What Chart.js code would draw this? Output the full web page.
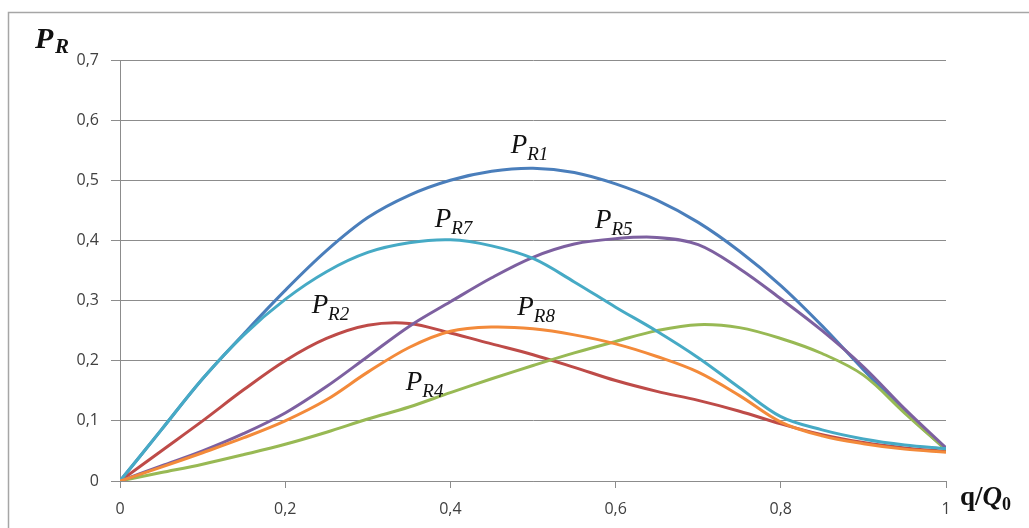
<!DOCTYPE html>
<html>
<head>
<meta charset="utf-8">
<script src="https://cdn.jsdelivr.net/npm/chart.js@4/dist/chart.umd.min.js"></script>
<style>
  body { margin: 0; background: #fff; }
  #wrap { width: 1029px; height: 528px; }
</style>
</head>
<body>
<div id="wrap"><canvas id="chart__1" width="1029" height="528"></canvas></div>
<script>
"use strict";

// ** Data
const qValues = [0, 0.05, 0.1, 0.15, 0.2, 0.25, 0.3, 0.35, 0.4, 0.45, 0.5,
  0.55, 0.6, 0.65, 0.7, 0.75, 0.8, 0.85, 0.9, 0.95, 1];

const pR1 = [0, 0.085, 0.17, 0.245, 0.317, 0.383, 0.438, 0.475, 0.5, 0.515, 0.52,
  0.513, 0.494, 0.467, 0.43, 0.382, 0.325, 0.258, 0.185, 0.115, 0.052];
const pR2 = [0, 0.05, 0.1, 0.152, 0.2, 0.237, 0.259, 0.262, 0.246, 0.228, 0.21,
  0.189, 0.167, 0.149, 0.134, 0.116, 0.095, 0.077, 0.064, 0.055, 0.049];
const pR4 = [0, 0.014, 0.028, 0.044, 0.061, 0.081, 0.103, 0.123, 0.147, 0.17, 0.192,
  0.213, 0.232, 0.25, 0.26, 0.255, 0.237, 0.212, 0.176, 0.113, 0.052];
const pR5 = [0, 0.025, 0.05, 0.079, 0.113, 0.157, 0.207, 0.257, 0.298, 0.338, 0.372,
  0.394, 0.403, 0.405, 0.393, 0.353, 0.303, 0.25, 0.19, 0.12, 0.055];
const pR7 = [0, 0.085, 0.17, 0.243, 0.302, 0.348, 0.38, 0.396, 0.401, 0.391, 0.37,
  0.331, 0.289, 0.249, 0.205, 0.155, 0.107, 0.085, 0.07, 0.06, 0.054];
const pR8 = [0, 0.023, 0.047, 0.072, 0.1, 0.135, 0.181, 0.222, 0.249, 0.256, 0.253,
  0.243, 0.228, 0.207, 0.181, 0.142, 0.098, 0.075, 0.062, 0.053, 0.048];

const seriesNames = ["R1", "R2", "R4", "R5", "R7", "R8"];
const seriesValues = [pR1, pR2, pR4, pR5, pR7, pR8];
const seriesColors = ["#4a7ebb", "#be4b48", "#98b954", "#7d60a0", "#46aac5", "#f38a3a"];

const xTicks = [0, 0.2, 0.4, 0.6, 0.8, 1];
const yTicks = [0, 0.1, 0.2, 0.3, 0.4, 0.5, 0.6, 0.7];

// curve labels: [subscript, q, P] anchor of the "P" (left, baseline)
const curveLabels = [
  ["R1", 0.473, 0.545],
  ["R7", 0.381, 0.422],
  ["R5", 0.575, 0.421],
  ["R2", 0.232, 0.279],
  ["R8", 0.481, 0.276],
  ["R4", 0.346, 0.151],
];

// ** Helpers
const fmt = (v) => String(Math.round(v * 10) / 10).replace(".", ",");
const gridGray = "#8c8c8c";

function buildDatasets() {
  const sets = seriesNames.map((name, i) => ({
    label: "P" + name,
    data: qValues.map((q, j) => ({ x: q, y: seriesValues[i][j] })),
    borderColor: seriesColors[i],
    backgroundColor: seriesColors[i],
    borderWidth: 3,
    pointRadius: 0,
    tension: 0.35,
    fill: false,
  }));
  // later series on top, like the spreadsheet
  return sets.reverse();
}

const framePlugin = {
  id: "frame",
  beforeDraw: (chart) => {
    const { ctx, width, height } = chart;
    ctx.save();
    ctx.fillStyle = "#ffffff";
    ctx.fillRect(0, 0, width, height);
    ctx.strokeStyle = "#a6a6a6";
    ctx.lineWidth = 1.5;
    ctx.strokeRect(8.5, 12.5, width + 20, height + 20);
    ctx.restore();
  },
};

const labelPlugin = {
  id: "curveLabels",
  afterDatasetsDraw: (chart) => {
    const { ctx } = chart;
    const xs = chart.scales.x;
    const ys = chart.scales.y;
    ctx.save();
    ctx.fillStyle = "#111";
    ctx.textBaseline = "alphabetic";
    ctx.textAlign = "left";
    curveLabels.forEach(([sub, q, p]) => {
      const px = xs.getPixelForValue(q);
      const py = ys.getPixelForValue(p);
      ctx.font = "italic 27px 'Liberation Serif'";
      ctx.fillText("P", px, py);
      const w = ctx.measureText("P").width;
      ctx.font = "italic 19px 'Liberation Serif'";
      ctx.fillText(sub, px + w, py + 7);
    });

    // axis titles
    ctx.font = "bold italic 30px 'Liberation Serif'";
    ctx.fillText("P", 35, 48);
    ctx.font = "bold italic 21px 'Liberation Serif'";
    ctx.fillText("R", 55, 53);

    ctx.font = "bold 27px 'Liberation Serif'";
    ctx.fillText("q/", 960, 505);
    let off = ctx.measureText("q/").width;
    ctx.font = "bold italic 27px 'Liberation Serif'";
    ctx.fillText("Q", 960 + off, 505);
    off += ctx.measureText("Q").width;
    ctx.font = "bold 18px 'Liberation Serif'";
    ctx.fillText("0", 960 + off, 510);
    ctx.restore();
  },
};

const config = {
  type: "line",
  data: { datasets: buildDatasets() },
  options: {
    responsive: false,
    animation: false,
    events: [],
    layout: { padding: { top: 60, right: 83, left: 0, bottom: 0 } },
    plugins: { legend: { display: false }, tooltip: { enabled: false } },
    scales: {
      x: {
        type: "linear",
        min: 0,
        max: 1,
        afterBuildTicks: (scale) => {
          scale.ticks = xTicks.map((v) => ({ value: v }));
        },
        afterFit: (scale) => {
          scale.height = 47;
        },
        ticks: {
          callback: (v) => fmt(v),
          font: { family: "'Open Sans'", size: 16 },
          color: "#404040",
          padding: 12,
          maxRotation: 0,
        },
        grid: {
          drawOnChartArea: false,
          drawTicks: true,
          tickLength: 7,
          color: gridGray,
        },
        border: { display: true, color: gridGray, width: 1 },
      },
      y: {
        type: "linear",
        min: 0,
        max: 0.7,
        afterBuildTicks: (scale) => {
          scale.ticks = yTicks.map((v) => ({ value: v }));
        },
        afterFit: (scale) => {
          scale.width = 120;
        },
        ticks: {
          callback: (v) => fmt(v),
          font: { family: "'Open Sans'", size: 16 },
          color: "#404040",
          padding: 12,
        },
        grid: {
          drawTicks: true,
          tickLength: 9,
          color: gridGray,
          lineWidth: 1,
        },
        border: { display: true, color: gridGray, width: 1 },
      },
    },
  },
  plugins: [framePlugin, labelPlugin],
};

const ctx = document.getElementById("chart__1").getContext("2d");
const chart = new Chart(ctx, config);
</script>
</body>
</html>
